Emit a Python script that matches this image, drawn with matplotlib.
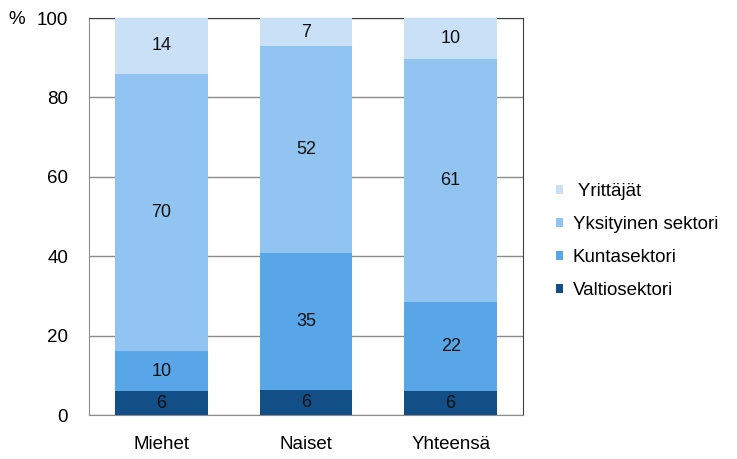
import matplotlib
matplotlib.use("Agg")
import matplotlib.pyplot as plt
import numpy as np

categories = ["Miehet", "Naiset", "Yhteensä"]
series_names = ["Valtiosektori", "Kuntasektori", "Yksityinen sektori", " Yrittäjät"]
valtio = [6.0, 6.3, 6.0]
kunta = [10.0, 34.6, 22.4]
yksityinen = [70.0, 52.0, 61.2]
yrittajat = [14.0, 7.1, 10.4]
colors = ["#134F87", "#58A5E7", "#91C4F1", "#C9E0F7"]

plt.rcParams["font.family"] = ["Liberation Sans", "DejaVu Sans"]

fig = plt.figure(figsize=(7.37, 4.59), dpi=100)
ax = fig.add_axes([89 / 737, 1 - 415 / 459, 434 / 737, 397 / 459])

x = np.arange(len(categories))
bottom = np.zeros(len(categories))
handles = []
for name, vals, col in zip(series_names, [valtio, kunta, yksityinen, yrittajat], colors):
    vals = np.array(vals)
    b = ax.bar(x, vals, bottom=bottom, width=0.64, color=col, label=name, zorder=3)
    handles.append(b)
    for xi, v, bt in zip(x, vals, bottom):
        ax.text(xi, bt + v / 2, f"{v:.0f}", ha="center", va="center", fontsize=13, color="#111111", zorder=4)
    bottom += vals

ax.set_xlim(-0.5, 2.5)
ax.set_ylim(0, 100)
ax.set_yticks(range(0, 101, 20))
ax.yaxis.grid(True, color="#8c8c8c", linewidth=1, zorder=0)
ax.set_xticks(x)
ax.set_xticklabels(categories, fontsize=13.5)
ax.tick_params(axis="y", labelsize=13.5, length=0, pad=15)
ax.tick_params(axis="x", length=0, pad=15)
for side in ["left", "bottom"]:
    ax.spines[side].set_color("#8c8c8c")
for side in ["top", "right"]:
    ax.spines[side].set_color("#404040")
fig.text(8 / 737, 1 - 20 / 459, "%", fontsize=13.5, va="center", ha="left")

leg = ax.legend(handles[::-1], series_names[::-1], loc="center left",
                bbox_to_anchor=(1 + 33 / 434, 0.438), borderaxespad=0, borderpad=0,
                frameon=False, fontsize=13.5, handlelength=0.35, handleheight=0.35,
                handletextpad=0.55, labelspacing=0.85)

fig.savefig("out.png", dpi=100)
